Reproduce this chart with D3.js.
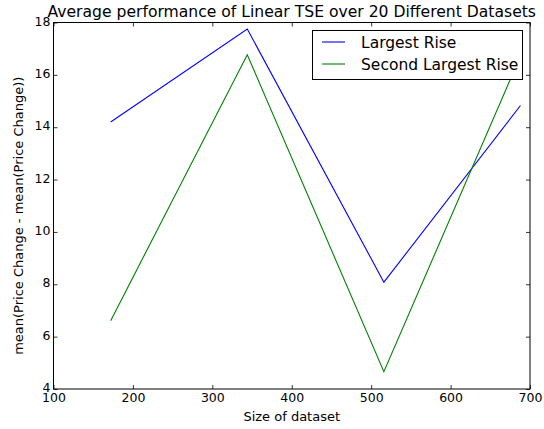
<!DOCTYPE html>
<html><head><meta charset="utf-8">
<script src="https://cdn.jsdelivr.net/npm/d3@7"></script>
<style>body{margin:0;background:#fff}svg{display:block;font-family:"DejaVu Sans",sans-serif}</style>
</head><body><svg id="c" width="544" height="429"></svg>
<script>
const sizes = [172, 344, 516, 688];
const largestRise = [14.2, 17.75, 8.08, 14.83];
const secondLargestRise = [6.61, 16.77, 4.66, 16.72];
const seriesNames = ["Largest Rise", "Second Largest Rise"];
const seriesColors = ["#0000ff", "#008000"];
const xTicks = [100, 200, 300, 400, 500, 600, 700];
const yTicks = [4, 6, 8, 10, 12, 14, 16, 18];

const svg = d3.select("#c");
const L = 53.5, R = 530, T = 22.5, B = 389;
const x = d3.scaleLinear().domain([100, 700]).range([L, R]);
const y = d3.scaleLinear().domain([4, 18]).range([B, T]);

const series = [largestRise, secondLargestRise];
const line = d3.line().x((d, i) => x(sizes[i])).y(d => y(d));
series.forEach((s, k) => {
  svg.append("path").datum(s).attr("d", line).attr("fill", "none")
    .attr("stroke", seriesColors[k]).attr("stroke-width", 1.1);
});

// axes with inward ticks
const tl = 4;
const ax = svg.append("g").attr("transform", `translate(0,${B})`)
  .call(d3.axisBottom(x).tickValues(xTicks).tickSize(-tl).tickPadding(6).tickFormat(d3.format("d")));
const axT = svg.append("g").attr("transform", `translate(0,${T})`)
  .call(d3.axisTop(x).tickValues(xTicks).tickSize(-tl).tickFormat(""));
const ay = svg.append("g").attr("transform", `translate(${L},0)`)
  .call(d3.axisLeft(y).tickValues(yTicks).tickSize(-tl).tickPadding(8).tickFormat(d3.format("d")));
const ayR = svg.append("g").attr("transform", `translate(${R},0)`)
  .call(d3.axisRight(y).tickValues(yTicks).tickSize(-tl).tickFormat(""));
[ax, axT, ay, ayR].forEach(g => {
  g.select(".domain").remove();
  g.selectAll("line").attr("stroke", "#000").attr("stroke-width", 0.8);
  g.selectAll("text").attr("fill", "#000").style("font-size", "12.5px").style("font-family", "DejaVu Sans");
});
ax.selectAll("text").attr("dy", "0.71em").attr("y", 4);
ay.selectAll("text").attr("x", -3).attr("dy", "0.2em");

svg.append("rect").attr("x", L).attr("y", T).attr("width", R - L).attr("height", B - T)
  .attr("fill", "none").attr("stroke", "#000").attr("stroke-width", 1);

// title and labels
svg.append("text").attr("x", (L + R) / 2).attr("y", 17).attr("text-anchor", "middle")
  .style("font-size", "15.6px").text("Average performance of Linear TSE over 20 Different Datasets");
svg.append("text").attr("x", (L + R) / 2).attr("y", 421).attr("text-anchor", "middle")
  .style("font-size", "13px").text("Size of dataset");
svg.append("text").attr("transform", `translate(23,${(T + B) / 2 + 10}) rotate(-90)`).attr("text-anchor", "middle")
  .style("font-size", "13px").text("mean(Price Change - mean(Price Change))");

// legend
const lg = svg.append("g");
lg.append("rect").attr("x", 312.5).attr("y", 30.5).attr("width", 210).attr("height", 49)
  .attr("fill", "#fff").attr("stroke", "#000").attr("stroke-width", 1);
seriesNames.forEach((n, k) => {
  const yy = 42 + k * 22;
  lg.append("line").attr("x1", 322).attr("x2", 345).attr("y1", yy).attr("y2", yy)
    .attr("stroke", seriesColors[k]).attr("stroke-width", 1.1);
  lg.append("text").attr("x", 361).attr("y", yy).attr("dy", "0.36em")
    .style("font-size", "15.5px").text(n);
});
</script></body></html>
